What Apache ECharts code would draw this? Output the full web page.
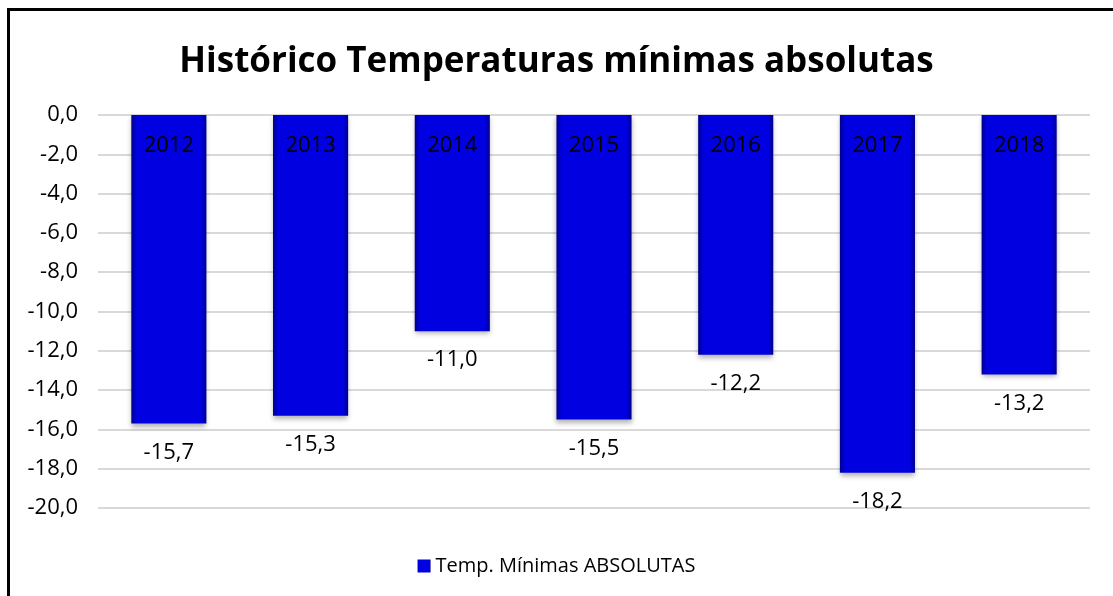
<!DOCTYPE html>
<html><head><meta charset="utf-8">
<script src="https://cdn.jsdelivr.net/npm/echarts@6/dist/echarts.min.js"></script>
<style>html,body{margin:0;padding:0;background:#fff;}#c{width:1113px;height:596px;}
#frame{position:absolute;left:7px;top:8px;width:1200px;height:700px;border-left:3px solid #000;border-top:3px solid #000;pointer-events:none;}</style>
</head><body><div id="c"></div><div id="frame"></div>
<script>
const categories = ['2012','2013','2014','2015','2016','2017','2018'];
const values = [-15.7, -15.3, -11.0, -15.5, -12.2, -18.2, -13.2];
const seriesName = 'Temp. Mínimas ABSOLUTAS';
const titleText = 'Histórico Temperaturas mínimas absolutas';

const chart = echarts.init(document.getElementById('c'));
const fmt = v => v.toFixed(1).replace('.', ',');
const barColor = new echarts.graphic.LinearGradient(0,0,1,0,[
  {offset:0,color:'#00008c'},{offset:0.07,color:'#0000e0'},{offset:0.93,color:'#0000e0'},{offset:1,color:'#000090'}]);
chart.setOption({
  animation:false,
  title:{text:titleText,left:'center',top:40,textStyle:{fontFamily:'Open Sans',fontWeight:'bold',fontSize:35,color:'#000'}},
  legend:{bottom:15,left:'center',itemWidth:13,itemHeight:13,icon:'rect',textStyle:{fontFamily:'Open Sans',fontSize:20,color:'#000'},itemGap:5},
  grid:{left:98,right:23,top:115,bottom:88},
  xAxis:{type:'category',data:categories,position:'top',z:10,axisLine:{show:false},axisTick:{show:false},
    axisLabel:{inside:true,margin:20,fontFamily:'Open Sans',fontSize:22,color:'#000',verticalAlign:'top'}},
  yAxis:{type:'value',min:-20,max:0,interval:2,
    axisLabel:{formatter:fmt,fontFamily:'Open Sans',fontSize:22,color:'#000',margin:20},
    splitLine:{lineStyle:{color:'#d9d9d9',width:2}},axisLine:{show:false},axisTick:{show:false}},
  series:[{name:seriesName,type:'bar',data:values,barWidth:'53%',z:3,
    itemStyle:{color:barColor,shadowColor:'rgba(0,0,0,0.3)',shadowBlur:5,shadowOffsetY:3},
    label:{show:true,position:'bottom',distance:18,formatter:p=>fmt(p.value),fontFamily:'Open Sans',fontSize:22,color:'#000'}}]
});
</script></body></html>
